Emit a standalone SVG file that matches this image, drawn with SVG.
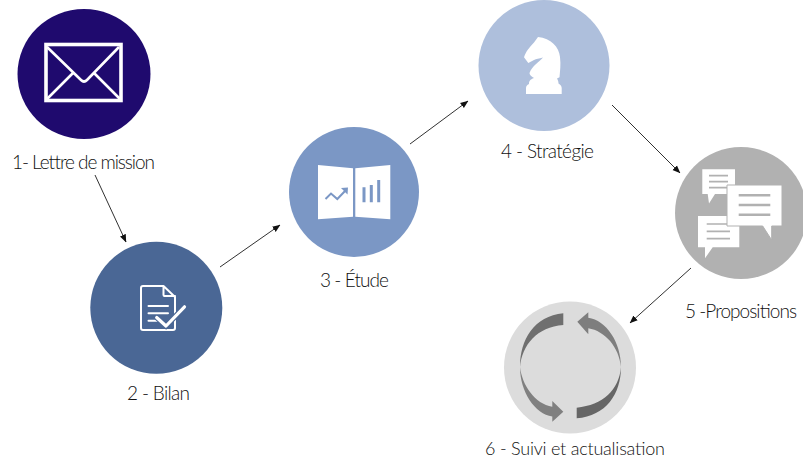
<svg xmlns="http://www.w3.org/2000/svg" width="803" height="459" viewBox="0 0 803 459">
<style>
text{font-family:"Lato","Open Sans","Liberation Sans",sans-serif;font-weight:300;font-size:19px;fill:#111}
.c{stroke:#1a1a1a;stroke-width:.9;fill:none;marker-end:url(#a)}
.w{fill:none;stroke:#fff;stroke-linecap:round;stroke-linejoin:round}
.g{stroke:#b1b1b1;stroke-width:1.7}
</style>
<defs><marker id="a" viewBox="0 0 8 8" refX="7.5" refY="4" markerWidth="8" markerHeight="8" markerUnits="userSpaceOnUse" orient="auto"><path d="M0 .8L8 4L0 7.2Z" fill="#111"/></marker></defs>
<rect width="803" height="459" fill="#fff"/>
<g id="connectors">
<path class="c" d="M95 175L126 242"/>
<path class="c" d="M220 267L280 225"/>
<path class="c" d="M410 144L468 101"/>
<path class="c" d="M612 105L680 173"/>
<path class="c" d="M691 268L630 323"/>
</g>
<g id="node1">
<ellipse cx="84" cy="74" rx="66.5" ry="65" fill="#1f0a6e"/>
<rect x="46" y="44.5" width="75" height="56" fill="none" stroke="#fff" stroke-width="3.6"/>
<path d="M47 47L81 80Q84 83 87 80L119 47M47 99L73 73M120 99L94 73" fill="none" stroke="#fff" stroke-width="2.6"/>
<text x="12" y="169" textLength="143">1- Lettre de mission</text>
</g>
<g id="node2">
<circle cx="156.3" cy="307.8" r="66" fill="#4a6795"/>
<path class="w" stroke-width="2" d="M163.5 286H143a2 2 0 0 0-2 2V328a2 2 0 0 0 2 2H173a2 2 0 0 0 2-2V297ZM163.5 286V295a1 1 0 0 0 1 1H175"/>
<path class="w" stroke-width="2" d="M148.5 306H168M148.5 313.3H168M148.5 320.7H161"/>
<path d="M156.7 317.5L166 326L184.5 306.8" fill="none" stroke="#4a6795" stroke-width="5.5"/>
<path d="M156.7 317.5L166 326L184.5 306.8" class="w" stroke-width="3.2"/>
<text x="127" y="400" textLength="63">2 - Bilan</text>
</g>
<g id="node3">
<circle cx="354" cy="192" r="65" fill="#7b97c5"/>
<path d="M318 165L353 168.3V216.7L318 219.3ZM355.3 168.3L390.3 165V219.3L355.3 216.7Z" fill="#fff"/>
<path d="M325.5 199L331 193.5L337.3 199L346 190" fill="none" stroke="#7b97c5" stroke-width="2"/>
<path d="M341 188L348 187.5L347.5 194.5Z" fill="#7b97c5"/>
<path d="M364 187.3V202.3M371.3 185V202.3M378.7 180V202.3" fill="none" stroke="#7b97c5" stroke-width="3"/>
<text x="320" y="287" textLength="69">3 - Étude</text>
</g>
<g id="node4">
<circle cx="544" cy="65.5" r="65.5" fill="#aebfdc"/>
<path d="M538 37C551 38 559 47 560 57C561 65 560 71 559.5 77.3L557 78.5C558 80 558.5 82 558.5 83.5C560.5 85 561.7 86 561.7 88V94H526V88C526 86 527 85 529 84C529 81 530 79.5 534 78C531 76 529.5 75 529.5 73C531 69 533 67 535.5 64.5C538 62 541 60 543 57.5C539 58.5 536 59 534 60L528.3 63L524 57.3C525 54 526.5 51.5 528 49.5C530 47 532 44.5 534 42.5Z" fill="#fff"/>
<text x="501" y="158" textLength="93">4 - Stratégie</text>
</g>
<g id="node5">
<circle cx="741" cy="213" r="66" fill="#b1b1b1"/>
<path d="M702.3 169.3H735V194H715L709 203.5L707.7 194H702.3Z" fill="#fff"/>
<path class="g" d="M709 175.7H728M709 181.7H728M709 187.7H728"/>
<path d="M698 216H739.3V247.3H712.7L705 258.3V247.3H698Z" fill="#fff"/>
<path class="g" d="M706.7 224H730M706.7 231.3H730M706.7 238.7H730"/>
<path d="M727 185H782V226H771.7V240L762.7 226H727Z" fill="#fff" stroke="#b1b1b1" stroke-width="1"/>
<path d="M738.7 195.3H770.3M738.7 205H770.3M738.7 214.7H770.3" fill="none" stroke="#b1b1b1" stroke-width="2.4"/>
<text x="685" y="318" textLength="112">5 -Propositions</text>
</g>
<g id="node6">
<circle cx="570" cy="367.5" r="66" fill="#dcdcdc"/>
<path d="M563.3 313.3C534 316 520 340 520 367C522 345 537 327 563.3 325Z" fill="#6f6f6f"/>
<path d="M520 367C520 392 535 414 552.3 416.5V421.7L563.3 411.7L552.3 401V406.7C535 404 522 385 520 367Z" fill="#808080"/>
<path d="M621 367C621 342 606 320 588.3 317.7V312.3L577.3 321.7L588.3 334.3V328.3C605 331 619 347 621 367Z" fill="#7e7e7e"/>
<path d="M621 367C619 390 603 405 576.7 407.7V418.3C606 416 621 394 621 367Z" fill="#666"/>
<text x="485" y="455" textLength="180" style="font-size:18px">6 - Suivi et actualisation</text>
</g>
</svg>
